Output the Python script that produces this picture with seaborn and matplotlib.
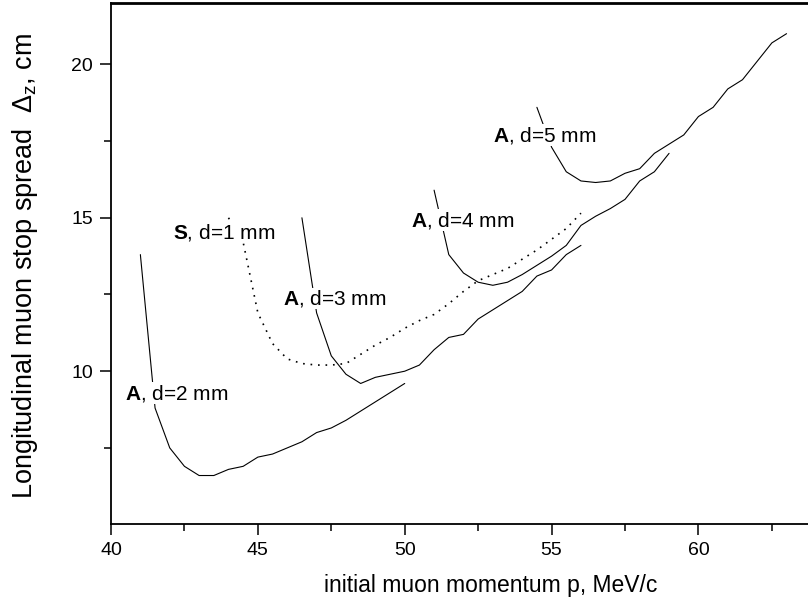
import numpy as np
import pandas as pd
import matplotlib
matplotlib.use("Agg")
import matplotlib.pyplot as plt
import seaborn as sns

# ---- data ----
a2_p = [41, 41.5, 42, 42.5, 43, 43.5, 44, 44.5, 45, 45.5, 46, 46.5, 47, 47.5, 48, 48.5, 49, 49.5, 50]
a2_d = [13.8, 8.8, 7.5, 6.9, 6.6, 6.6, 6.8, 6.9, 7.2, 7.3, 7.5, 7.7, 8.0, 8.15, 8.4, 8.7, 9.0, 9.3, 9.6]

s1_p = [44, 44.5, 45, 45.5, 46, 46.5, 47, 47.5, 48, 48.5, 49, 49.5, 50, 50.5, 51, 51.5, 52, 52.5,
        53, 53.5, 54, 54.5, 55, 55.5, 56]
s1_d = [15.0, 14.2, 11.9, 10.9, 10.4, 10.25, 10.2, 10.2, 10.25, 10.55, 10.85, 11.1, 11.4, 11.65,
        11.85, 12.2, 12.6, 12.95, 13.15, 13.35, 13.65, 13.95, 14.3, 14.65, 15.15]

a3_p = [46.5, 47, 47.5, 48, 48.5, 49, 49.5, 50, 50.5, 51, 51.5, 52, 52.5, 53, 53.5, 54, 54.5, 55, 55.5, 56]
a3_d = [15.0, 11.9, 10.5, 9.9, 9.6, 9.8, 9.9, 10.0, 10.2, 10.7, 11.1, 11.2, 11.7, 12.0, 12.3,
        12.6, 13.1, 13.3, 13.8, 14.1]

a4_p = [51, 51.5, 52, 52.5, 53, 53.5, 54, 54.5, 55, 55.5, 56, 56.5, 57, 57.5, 58, 58.5, 59]
a4_d = [15.9, 13.8, 13.2, 12.9, 12.8, 12.9, 13.15, 13.45, 13.75, 14.1, 14.75, 15.05, 15.3, 15.6,
        16.2, 16.5, 17.1]

a5_p = [54.5, 55, 55.5, 56, 56.5, 57, 57.5, 58, 58.5, 59, 59.5, 60, 60.5, 61, 61.5, 62, 62.5, 63]
a5_d = [18.6, 17.3, 16.5, 16.2, 16.15, 16.2, 16.45, 16.6, 17.1, 17.4, 17.7, 18.3, 18.6, 19.2,
        19.5, 20.1, 20.7, 21.0]

label_text = [r"$\mathbf{A}$, d=2 mm", r"$\mathbf{S}$, d=1 mm", r"$\mathbf{A}$, d=3 mm",
              r"$\mathbf{A}$, d=4 mm", r"$\mathbf{A}$, d=5 mm"]
label_p = [40.48, 42.1, 45.87, 50.21, 53.02]
label_d = [9.28, 14.52, 12.37, 14.92, 17.69]

x_ticks = [40, 45, 50, 55, 60]
y_ticks = [10, 15, 20]

# ---- style ----
sns.set_theme(style="ticks")
plt.rcParams["font.family"] = ["Liberation Sans", "DejaVu Sans"]
plt.rcParams["mathtext.fontset"] = "custom"
plt.rcParams["mathtext.rm"] = "Liberation Sans"
plt.rcParams["mathtext.it"] = "Liberation Sans:italic"
plt.rcParams["mathtext.bf"] = "Liberation Sans:bold"
plt.rcParams["mathtext.default"] = "regular"

fig = plt.figure(figsize=(8.08, 6.10), dpi=100)
ax = fig.add_axes([111 / 808, 1 - 524 / 610, 1 - 111 / 808, (524 - 3) / 610])

curves = [(a2_p, a2_d, "-"), (s1_p, s1_d, (0, (1, 3.5))), (a3_p, a3_d, "-"),
          (a4_p, a4_d, "-"), (a5_p, a5_d, "-")]
for p, d, ls in curves:
    df = pd.DataFrame({"p": p, "d": d})
    sns.lineplot(data=df, x="p", y="d", sort=False, color="black",
                 linewidth=0.8 if ls == "-" else 1.2, linestyle=ls, ax=ax, zorder=2)

for t, xp, yp in zip(label_text, label_p, label_d):
    ax.text(xp, yp, t, fontsize=15, ha="left", va="center", color="black", zorder=3,
            bbox=dict(facecolor="white", edgecolor="none", pad=0.3))

ax.set_xlim(40, 63.73)
ax.set_ylim(5.02, 22.0)
ax.set_xticks(x_ticks)
ax.set_yticks(y_ticks)
ax.set_xticks(np.arange(42.5, 63.6, 5), minor=True)
ax.set_yticks(np.arange(7.5, 21, 5), minor=True)
ax.tick_params(axis="both", which="major", direction="out", length=8, width=1.1,
               labelsize=14, color="black", labelcolor="black", pad=5)
ax.tick_params(axis="both", which="minor", direction="out", length=5, width=1.1, color="black")

for s in ["left", "bottom", "top"]:
    ax.spines[s].set_color("black")
    ax.spines[s].set_linewidth(1.3)
ax.spines["top"].set_linewidth(2.0)
ax.spines["right"].set_visible(False)

ax.set_xlabel("initial muon momentum p, MeV/c", fontsize=16.5, color="black")
ax.xaxis.set_label_coords((491 - 111) / 697, -(592 - 524) / 521)
ax.xaxis.label.set_va("baseline")
ax.set_ylabel(r"Longitudinal muon stop spread  $\Delta_z$, cm", fontsize=19.5, color="black")
ax.yaxis.set_label_coords(-(111 - 40) / 697, (524 - 266) / 521)

fig.savefig("out.png", dpi=100)
